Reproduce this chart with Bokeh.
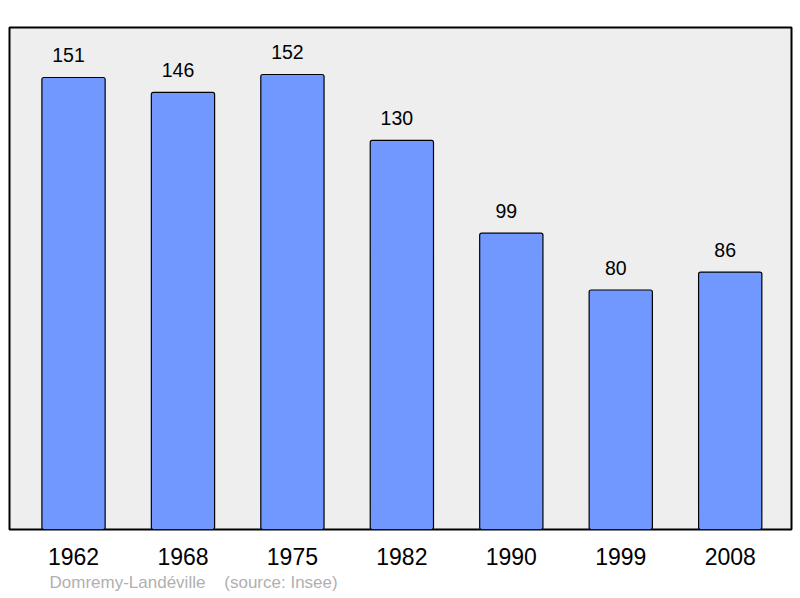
from bokeh.plotting import figure
from bokeh.models import ColumnDataSource, FixedTicker, Range1d, Title
from bokeh.core.properties import value
from bokeh.embed import file_html
from bokeh.resources import INLINE

years = ["1962", "1968", "1975", "1982", "1990", "1999", "2008"]
population = [151, 146, 152, 130, 99, 80, 86]
title_text = "Domremy-Landéville\u00a0\u00a0\u00a0\u00a0(source: Insee)"

idx = list(range(len(years)))
src = ColumnDataSource(dict(x=idx, top=population, label=[str(v) for v in population]))

p = figure(width=800, height=598, output_backend="svg", toolbar_location=None,
           x_range=Range1d(-0.585, 6.56), y_range=Range1d(0, 167.7),
           min_border_left=9, min_border_right=9, min_border_top=27, min_border_bottom=69)
p.background_fill_color = "#eeeeee"
p.border_fill_color = "white"
p.outline_line_color = "black"
p.outline_line_width = 2
p.grid.visible = False
p.yaxis.visible = False

p.vbar(x="x", top="top", bottom=0, width=0.578, source=src,
       fill_color="#7098ff", line_color="black", line_width=1.2, border_radius=2)
p.text(x="x", y="top", text="label", source=src, text_align="center",
       text_baseline="bottom", x_offset=-5, y_offset=-15, text_font_size="19.5px",
       text_color="black", text_font=value("Liberation Sans"))

ax = p.xaxis[0]
ax.ticker = FixedTicker(ticks=idx)
ax.major_label_overrides = {i: y for i, y in zip(idx, years)}
ax.major_label_text_font_size = "23px"
ax.major_label_text_font = "Liberation Sans"
ax.major_label_text_color = "black"
ax.major_label_standoff = 12
ax.axis_line_color = None
ax.major_tick_line_color = None
ax.minor_tick_line_color = None

p.add_layout(Title(text=title_text, align="left", offset=40, standoff=7,
                   text_font_size="17px", text_font="Liberation Sans",
                   text_font_style="normal", text_color="#b0b0b0"), "below")

open("out.html", "w").write(file_html(p, INLINE))
